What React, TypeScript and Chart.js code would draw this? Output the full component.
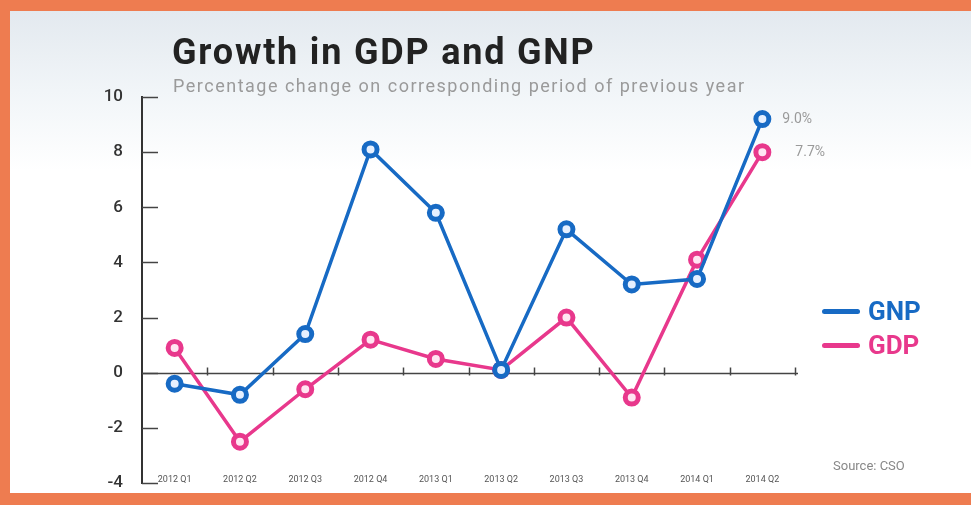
import React, { useEffect, useRef } from "react";
import { Chart, registerables } from "chart.js";

Chart.register(...registerables);

const categories = ["2012 Q1", "2012 Q2", "2012 Q3", "2012 Q4", "2013 Q1", "2013 Q2", "2013 Q3", "2013 Q4", "2014 Q1", "2014 Q2"];
const gnpValues = [-0.4, -0.8, 1.4, 8.1, 5.8, 0.1, 5.2, 3.2, 3.4, 9.2];
const gdpValues = [0.9, -2.5, -0.6, 1.2, 0.5, 0.1, 2.0, -0.9, 4.1, 8.0];
const endLabels = ["9.0%", "7.7%"];
const seriesNames = ["GNP", "GDP"];
const yTickValues = [-4, -2, 0, 2, 4, 6, 8, 10];

const BLUE = "#176ac4";
const PINK = "#e8388c";
const ORANGE = "#ee7c50";

const axisPlugin = {
  id: "customAxis",
  beforeDatasetsDraw(chart: any) {
    const { ctx, chartArea, scales } = chart;
    const x = scales.x;
    const y = scales.y;
    ctx.save();
    ctx.strokeStyle = "#444";
    ctx.lineWidth = 1.5;
    yTickValues.forEach((v) => {
      const py = Math.round(y.getPixelForValue(v)) + 0.5;
      ctx.beginPath();
      ctx.moveTo(chartArea.left, py);
      ctx.lineTo(chartArea.left + 16, py);
      ctx.stroke();
    });
    const y0 = Math.round(y.getPixelForValue(0)) + 0.5;
    ctx.beginPath();
    ctx.moveTo(chartArea.left, y0);
    ctx.lineTo(chartArea.right + 3, y0);
    ctx.stroke();
    for (let i = 0; i < categories.length; i++) {
      const a = x.getPixelForValue(i);
      const b = i < categories.length - 1 ? x.getPixelForValue(i + 1) : a + (a - x.getPixelForValue(i - 1));
      const px = Math.round((a + b) / 2) + 0.5;
      ctx.beginPath();
      ctx.moveTo(px, y0 - 6);
      ctx.lineTo(px, y0 + 2);
      ctx.stroke();
    }
    ctx.fillStyle = "#555";
    ctx.font = "9px Roboto";
    ctx.textAlign = "center";
    ctx.textBaseline = "middle";
    categories.forEach((c, i) => {
      ctx.fillText(c, x.getPixelForValue(i), chartArea.bottom - 3);
    });
    ctx.restore();
  },
  afterDatasetsDraw(chart: any) {
    const { ctx } = chart;
    ctx.save();
    ctx.fillStyle = "#9a9a9a";
    ctx.font = "14px Roboto";
    ctx.textAlign = "left";
    ctx.textBaseline = "middle";
    const offsets = [20, 33];
    chart.data.datasets.forEach((ds: any, di: number) => {
      const meta = chart.getDatasetMeta(di);
      const last = meta.data[meta.data.length - 1];
      ctx.fillText(endLabels[di], last.x + offsets[di], last.y);
    });
    ctx.restore();
  },
};

export default function App() {
  const ref = useRef<HTMLCanvasElement>(null);

  useEffect(() => {
    if (!ref.current) return;
    const chart = new Chart(ref.current, {
      type: "line",
      data: {
        labels: categories,
        datasets: [
          {
            label: seriesNames[0],
            data: gnpValues,
            borderColor: BLUE,
            borderWidth: 3.5,
            pointRadius: 6.5,
            pointBorderWidth: 5,
            pointBorderColor: BLUE,
            pointBackgroundColor: "#e6f0ff",
            tension: 0,
          },
          {
            label: seriesNames[1],
            data: gdpValues,
            borderColor: PINK,
            borderWidth: 3.5,
            pointRadius: 6.5,
            pointBorderWidth: 5,
            pointBorderColor: PINK,
            pointBackgroundColor: "#ffe6f2",
            tension: 0,
          },
        ],
      },
      options: {
        responsive: false,
        animation: false,
        layout: { padding: { left: 92, top: 97, right: 176, bottom: 22 } },
        plugins: {
          legend: { display: false },
          title: { display: false },
          tooltip: { enabled: false },
        },
        scales: {
          x: {
            type: "category",
            display: false,
            offset: true,
          },
          y: {
            min: -4,
            max: 10,
            afterFit: (scale: any) => {
              scale.width = 50;
              scale.paddingTop = 0;
              scale.paddingBottom = 0;
            },
            ticks: {
              stepSize: 2,
              padding: 19,
              color: "#333",
              font: { family: "Roboto", size: 17, weight: "500" },
            },
            grid: { drawOnChartArea: false, drawTicks: false },
            border: { display: true, color: "#333", width: 2 },
          },
        },
      },
      plugins: [axisPlugin],
    });
    return () => chart.destroy();
  }, []);

  return (
    <div style={{ position: "fixed", left: 0, top: 0, width: 971, height: 505, background: ORANGE, overflow: "hidden", fontFamily: "Roboto, sans-serif" }}>
      <div
        style={{
          position: "absolute",
          left: 10,
          top: 11,
          right: 0,
          bottom: 12,
          background: "linear-gradient(to bottom, #e3e9ef 0px, #f1f5f8 80px, #ffffff 160px, #ffffff 100%)",
        }}
      />
      <canvas ref={ref} width={971} height={505} style={{ position: "absolute", left: 0, top: 0 }} />
      <div style={{ position: "absolute", left: 172, top: 31, fontSize: 36, fontWeight: 700, color: "#222", letterSpacing: 1.8, lineHeight: "42px", whiteSpace: "nowrap" }}>
        Growth in GDP and GNP
      </div>
      <div style={{ position: "absolute", left: 173, top: 75, fontSize: 18, color: "#9a9a9a", letterSpacing: 1.5, lineHeight: "22px", whiteSpace: "nowrap" }}>
        Percentage change on corresponding period of previous year
      </div>
      <div style={{ position: "absolute", left: 822, top: 296, display: "flex", flexDirection: "column", gap: 4 }}>
        {seriesNames.map((n, i) => (
          <div key={n} style={{ display: "flex", alignItems: "center", height: 30 }}>
            <div style={{ width: 38, height: 5, borderRadius: 3, background: i === 0 ? BLUE : PINK, marginRight: 8 }} />
            <span style={{ fontSize: 26, fontWeight: 700, color: i === 0 ? BLUE : PINK, lineHeight: "30px" }}>{n}</span>
          </div>
        ))}
      </div>
      <div style={{ position: "absolute", left: 833, top: 458, fontSize: 13, color: "#888", whiteSpace: "nowrap" }}>Source: CSO</div>
    </div>
  );
}
